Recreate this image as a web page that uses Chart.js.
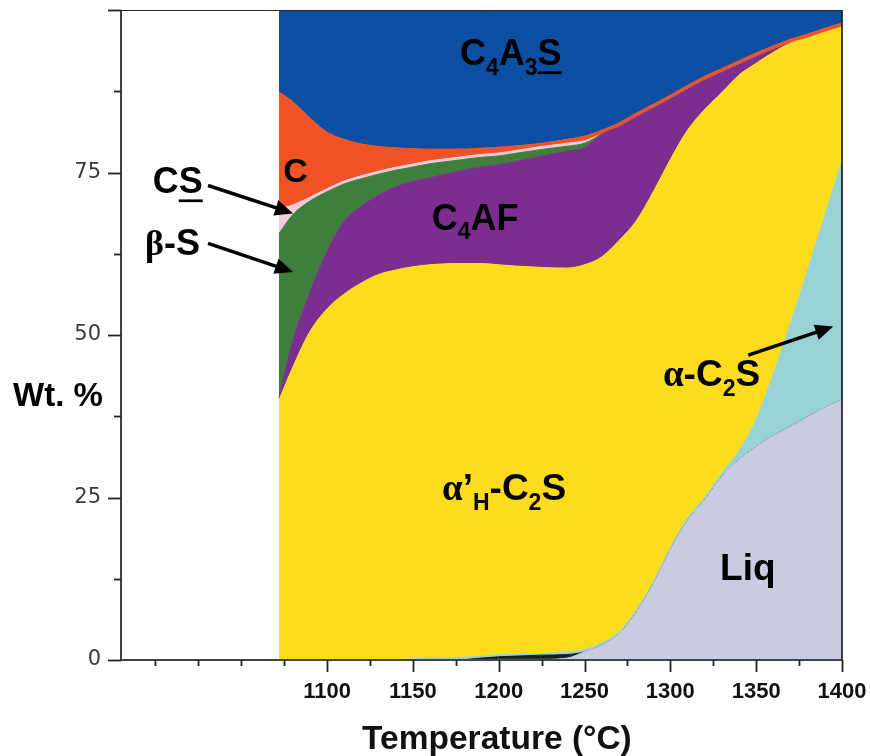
<!DOCTYPE html>
<html>
<head>
<meta charset="utf-8">
<script src="https://cdn.jsdelivr.net/npm/chart.js@4.4.1/dist/chart.umd.min.js"></script>
<style>
  html, body { margin: 0; padding: 0; background: #fff; }
  #wrap { width: 870px; height: 756px; position: relative; }
</style>
</head>
<body>
<div id="wrap"><canvas id="chart" width="870" height="756"></canvas></div>
<script>
// Phase assemblage (Wt. %) versus temperature (°C)
const temperatures = [1072,1080,1090,1100,1110,1120,1130,1140,1150,1160,1175,1190,1200,1210,1225,1240,
                      1250,1260,1270,1280,1290,1300,1310,1320,1330,1340,1350,1360,1370,1380,1390,1400];

const liq      = [0,0,0,0,0,0,0,0,0,0,0,0.05,0.1,0.1,0.1,0.3,
                  1.25,2.25,3.95,7.25,11.65,16.95,21.45,24.6,28.2,30.8,32.8,34.5,35.9,37.4,38.8,40.0];
const minor    = [0,0,0,0,0,0,0,0,0,0,0,0.25,0.4,0.5,0.65,0.55,
                  0,0,0,0,0,0,0,0,0,0,0,0,0,0,0,0];
const alphaC2S = [0,0,0,0,0,0,0,0,0.2,0.3,0.35,0.3,0.3,0.3,0.25,0.35,
                  0.35,0.35,0.35,0.35,0.35,0.35,0.35,0.4,0.5,1.4,4.2,9.5,15.9,22.6,29.6,36.8];
const alphaHC2S = [40,45,50.5,54,56.3,58,59.3,60,60.3,60.5,60.65,60.4,60.0,59.7,59.4,59.1,
                   59.2,59.4,60.2,59.9,60.0,59.7,59.7,59.7,58.6,57.8,54.8,49.5,43.1,35.7,28.2,20.6];
const c4af     = [0.3,4,6,8.8,11.2,11.8,12.2,12.8,13.1,13.4,14.1,14.9,15.4,16.1,17.1,18.0,
                  18.0,18.9,17.5,16.0,12.9,9.3,6.3,4.5,3.1,1.6,1.0,0.4,0,0,0,0];
const betaS    = [25.3,19.5,14.1,9.25,5.75,4.25,3.25,2.55,2.25,2.15,1.75,1.45,1.35,1.25,1.05,0.75,
                  0.7,0,0,0,0,0,0,0,0,0,0,0,0,0,0,0];
const cs       = [3.8,1.5,0.6,0.45,0.45,0.45,0.45,0.45,0.45,0.45,0.45,0.45,0.45,0.45,0.45,0.45,
                  0.4,0,0,0,0,0,0,0,0,0,0,0,0,0,0,0];
const lime     = [18,15.9,12.2,8.7,6.4,4.9,3.8,3.0,2.35,1.8,1.3,0.95,0.9,0.7,0.5,0.6,
                  0.7,0.6,0.6,0.6,0.6,0.6,0.6,0.6,0.6,0.6,0.6,0.6,0.6,0.6,0.6,0.6];
const c4a3s    = [12.6,14.1,16.6,18.8,19.9,20.6,21.0,21.2,21.35,21.4,21.4,21.25,21.1,20.9,20.5,19.9,
                  19.4,18.5,17.4,15.9,14.5,13.1,11.6,10.2,9.0,7.8,6.6,5.5,4.5,3.7,2.8,2.0];

// the melt boundary is outlined where α-C2S opens up above it
const liqEdgeFrom = 1330;

const xTickValues = [1000,1025,1050,1075,1100,1125,1150,1175,1200,1225,1250,1275,1300,1325,1350,1375,1400];
const xTickLabels = [1100,1150,1200,1250,1300,1350,1400];
const yTickValues = [0,12.5,25,37.5,50,62.5,75,87.5,100];
const yTickLabels = [0,25,50,75];

const SANS = '"Liberation Sans", Arial, Helvetica, sans-serif';
const SERIF = '"Liberation Serif", "Times New Roman", serif';

// stacked from the bottom up
const phases = [
  { name: 'Liq',       values: liq,       color: '#c9cce1' },
  { name: 'minor',     values: minor,     color: '#16201f' },
  { name: 'α-C2S',     values: alphaC2S,  color: '#97d3d6' },
  { name: "α'H-C2S",   values: alphaHC2S, color: '#fddc1e' },
  { name: 'C4AF',      values: c4af,      color: '#7b2e8f' },
  { name: 'β-S',       values: betaS,     color: '#3f7e3b' },
  { name: 'CS',        values: cs,        color: '#f3cbd9' },
  { name: 'C',         values: lime,      color: '#ef5225' },
  { name: 'C4A3S',     values: c4a3s,     color: '#0b4ea2' }
];

const datasets = phases.map((p, i) => ({
  label: p.name,
  stack: 'phases',
  data: temperatures.map((t, k) => ({ x: t, y: p.values[k] })),
  backgroundColor: p.color,
  borderColor: p.color,
  borderWidth: 1,
  pointRadius: 0,
  cubicInterpolationMode: 'monotone',
  fill: i === 0 ? 'origin' : '-1'
}));

// thin outline on top of the melt field (own stack, so it sits at the Liq values)
datasets.push({
  label: 'Liq edge',
  stack: 'edge',
  data: temperatures.map((t, k) => ({ x: t, y: liq[k] })).filter(d => d.x >= liqEdgeFrom),
  borderColor: '#3a4656',
  borderWidth: 1,
  pointRadius: 0,
  cubicInterpolationMode: 'monotone',
  fill: false
});

// labels placed in data coordinates (°C, Wt. %)
const phaseLabels = [
  { x: 1177.5, y: 91.5, size: 36, parts: [{t:'C'},{t:'4',sub:1},{t:'A'},{t:'3',sub:1},{t:'S',u:1}] },
  { x: 1074.5, y: 73.6, size: 34, parts: [{t:'C'}] },
  { x: 1161,   y: 66.2, size: 36, parts: [{t:'C'},{t:'4',sub:1},{t:'AF'}] },
  { x: 998.5,  y: 71.8, size: 36, parts: [{t:'C'},{t:'S',u:1}] },
  { x: 994,    y: 62.3, size: 36, parts: [{t:'β',g:1},{t:'-S'}] },
  { x: 1167,   y: 24.6, size: 37, parts: [{t:'α',g:1},{t:'’'},{t:'H',sub:1},{t:'-C'},{t:'2',sub:1},{t:'S'}] },
  { x: 1295.7, y: 42.2, size: 37, parts: [{t:'α',g:1},{t:'-C'},{t:'2',sub:1},{t:'S'}] },
  { x: 1329,   y: 12.3, size: 37, parts: [{t:'Liq'}] }
];
const arrows = [
  { from: [1030.7, 73.0], to: [1080.2, 68.7] },
  { from: [1030.7, 64.1], to: [1080.2, 59.7] },
  { from: [1345.4, 46.9], to: [1394.9, 51.3] }
];

function drawRich(ctx, x, y, parts, size) {
  const fontFor = p => {
    const s = p.sub ? Math.round(size * 0.63) : size;
    return `bold ${s}px ${p.g ? SERIF : SANS}`;
  };
  let cx = x;
  parts.forEach(p => {
    ctx.font = fontFor(p);
    const w = ctx.measureText(p.t).width;
    const dy = p.sub ? size * 0.27 : 0;
    ctx.fillText(p.t, cx, y + dy);
    if (p.u) ctx.fillRect(cx, y + size * 0.17, w, Math.max(2, size * 0.075));
    cx += w;
  });
}

function drawArrow(ctx, x1, y1, x2, y2) {
  const a = Math.atan2(y2 - y1, x2 - x1);
  const hl = 18, hw = 8;
  const bx = x2 - hl * Math.cos(a), by = y2 - hl * Math.sin(a);
  ctx.lineWidth = 3.5;
  ctx.beginPath(); ctx.moveTo(x1, y1); ctx.lineTo(bx + 2 * Math.cos(a), by + 2 * Math.sin(a)); ctx.stroke();
  ctx.beginPath();
  ctx.moveTo(x2, y2);
  ctx.lineTo(bx + hw * Math.sin(a), by - hw * Math.cos(a));
  ctx.lineTo(bx - hw * Math.sin(a), by + hw * Math.cos(a));
  ctx.closePath(); ctx.fill();
}

const noEdgePadding = s => { s.paddingTop = 0; s.paddingBottom = 0; s.paddingLeft = 0; s.paddingRight = 0; };

const framePlugin = {
  id: 'frameAndNotes',
  afterDraw(chart) {
    const { ctx, chartArea: ca, scales: { x, y } } = chart;
    ctx.save();
    // frame
    ctx.strokeStyle = '#2a2a2a';
    ctx.lineWidth = 1;
    ctx.beginPath(); ctx.moveTo(ca.left, ca.top + 0.5); ctx.lineTo(ca.right, ca.top + 0.5); ctx.stroke();
    ctx.lineWidth = 1.6; ctx.strokeStyle = '#111';
    ctx.beginPath(); ctx.moveTo(ca.right, ca.top); ctx.lineTo(ca.right, ca.bottom); ctx.stroke();
    ctx.beginPath(); ctx.moveTo(ca.left, ca.top); ctx.lineTo(ca.left, ca.bottom); ctx.stroke();
    ctx.lineWidth = 2.2; ctx.strokeStyle = '#444';
    ctx.beginPath(); ctx.moveTo(ca.left - 1, ca.bottom); ctx.lineTo(ca.right + 1, ca.bottom); ctx.stroke();

    // tick marks
    ctx.strokeStyle = '#222'; ctx.lineWidth = 1.8;
    xTickValues.forEach(v => {
      const px = Math.round(x.getPixelForValue(v)) + 0.5;
      const len = xTickLabels.includes(v) ? 12 : 6;
      ctx.beginPath(); ctx.moveTo(px, ca.bottom); ctx.lineTo(px, ca.bottom + len); ctx.stroke();
    });
    yTickValues.forEach(v => {
      const py = Math.round(y.getPixelForValue(v)) + 0.5;
      const len = (v % 25 === 0) ? 13 : 7;
      ctx.beginPath(); ctx.moveTo(ca.left, py); ctx.lineTo(ca.left - len, py); ctx.stroke();
    });

    // axis titles
    ctx.fillStyle = '#000';
    ctx.textBaseline = 'alphabetic';
    ctx.font = `bold 33px ${SANS}`;
    ctx.fillText('Wt. %', ca.left - 108, y.getPixelForValue(39.1));
    ctx.textAlign = 'center';
    ctx.fillStyle = '#111';
    ctx.font = `bold 33.5px ${SANS}`;
    ctx.fillText('Temperature (°C)', x.getPixelForValue(1199), ca.bottom + 89);
    ctx.textAlign = 'left';

    // phase names and arrows
    ctx.fillStyle = '#000';
    phaseLabels.forEach(l => drawRich(ctx, x.getPixelForValue(l.x), y.getPixelForValue(l.y), l.parts, l.size));
    ctx.strokeStyle = '#000';
    arrows.forEach(a => drawArrow(ctx,
      x.getPixelForValue(a.from[0]), y.getPixelForValue(a.from[1]),
      x.getPixelForValue(a.to[0]), y.getPixelForValue(a.to[1])));
    ctx.restore();
  }
};

new Chart(document.getElementById('chart'), {
  type: 'line',
  data: { datasets },
  options: {
    responsive: false,
    animation: false,
    layout: { padding: { top: 10, right: 28, bottom: 0, left: 0 } },
    plugins: { legend: { display: false }, tooltip: { enabled: false } },
    scales: {
      x: {
        type: 'linear',
        min: 980, max: 1400,
        afterFit: s => { s.height = 96; noEdgePadding(s); },
        afterBuildTicks: s => { s.ticks = xTickValues.map(v => ({ value: v })); },
        grid: { display: false, drawTicks: false },
        border: { display: false },
        ticks: {
          autoSkip: false, maxRotation: 0, padding: 19,
          color: '#111',
          font: { family: SANS, size: 22, weight: 'bold' },
          callback: v => xTickLabels.includes(v) ? String(v) : ''
        }
      },
      y: {
        stacked: true,
        min: 0, max: 100,
        afterFit: s => { s.width = 121; noEdgePadding(s); },
        afterBuildTicks: s => { s.ticks = yTickValues.map(v => ({ value: v })); },
        grid: { display: false, drawTicks: false },
        border: { display: false },
        ticks: {
          autoSkip: false, padding: 20,
          color: '#3a3a3a',
          font: { family: '"DejaVu Sans", sans-serif', size: 21 },
          callback: v => yTickLabels.includes(v) ? String(v) : ''
        }
      }
    }
  },
  plugins: [framePlugin]
});
</script>
</body>
</html>
